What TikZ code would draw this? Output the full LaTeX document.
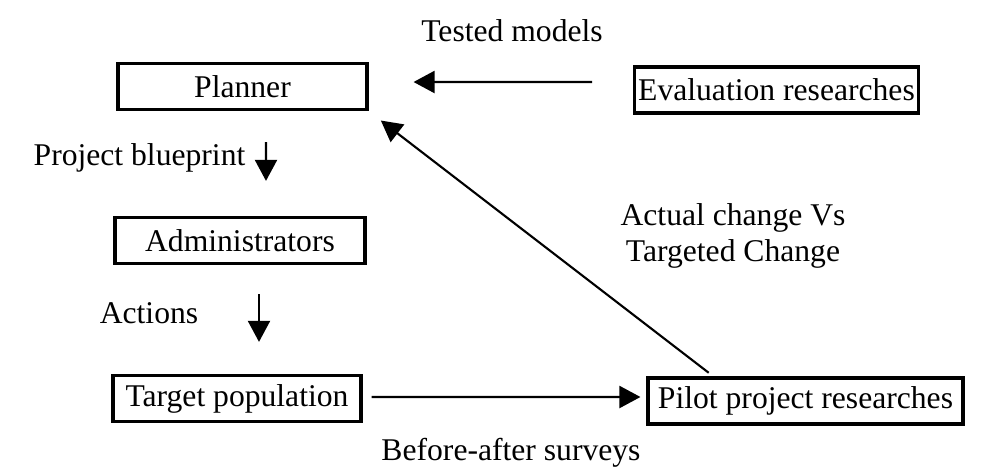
\documentclass[tikz,border=0pt]{standalone}
\usepackage{fontspec}
\setmainfont{Liberation Serif}
\usetikzlibrary{arrows.meta, positioning}
\tikzset{
>={Triangle[length=0.42cm, width=0.44cm]}, % big filled arrow heads
x=0.02cm, y=-0.02cm, % one unit is one pixel of the scanned page
every node/.style={font=\fontsize{18}{20}\selectfont}, % Times-like text everywhere
box/.style={draw=black, line width=1.8pt, minimum height=0.92cm, inner sep=2pt}, % framed boxes
}
\tikzset{
  flow/.style={->, line width=1.2pt},
  note/.style={align=center, inner sep=0pt}
}

\begin{document}
\begin{tikzpicture}
      \useasboundingbox (0,0) rectangle (1004,467);

      \node[box, minimum width=4.98cm] (planner) at (242.5,86.5) {Planner};
      \node[box, minimum width=5cm, on grid, below=3.08cm of planner, xshift=-0.05cm] (admin) {Administrators};
      \node[box, minimum width=4.96cm, on grid, below=3.16cm of admin, xshift=-0.06cm] (target) {Target population};
      \node[box, minimum width=5.54cm] (eval) at (776.5,90) {Evaluation researches};
      \node[box, minimum width=6.3cm] (pilot) at (805.5,401) {Pilot project researches};

      \node[note, anchor=base] (tested) at (512,41) {Tested models};
      \node[note, anchor=base] (blueprint) at (139.5,165) {Project blueprint};
      \node[note, anchor=base] (actions) at (149,323) {Actions};
      \node[note] (change) at (733,236) {Actual change Vs\\Targeted Change};
      \node[note, anchor=base] (surveys) at (511,460) {Before-after surveys};

      \draw[flow, shorten <=0.82cm, shorten >=0.9cm] ([yshift=0.16cm]eval.west) -- ([yshift=0.09cm]planner.east);
      \draw[flow, shorten <=0.12cm, shorten >=0.31cm] ([xshift=1.34cm]pilot.north west) -- (planner.south east);
      \draw[flow, shorten <=0.62cm, shorten >=0.7cm] ([xshift=0.47cm]planner.south) -- ([xshift=0.52cm]admin.north);
      \draw[flow, shorten <=0.58cm, shorten >=0.64cm] ([xshift=0.38cm]admin.south) -- ([xshift=0.44cm]target.north);
      \draw[flow, shorten <=0.18cm, shorten >=0.12cm] ([yshift=0.03cm]target.east) -- ([yshift=0.08cm]pilot.west);
    \end{tikzpicture}
\end{document}
